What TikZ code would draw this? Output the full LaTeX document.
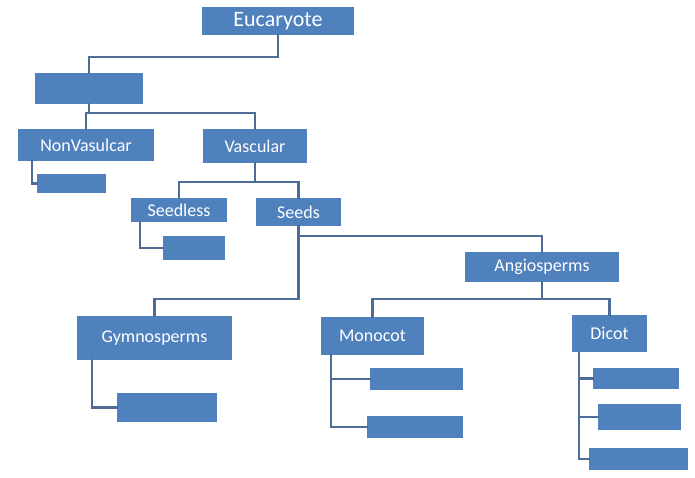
\documentclass[tikz,border=0pt]{standalone}
\usepackage{fontspec}
\setmainfont{Carlito}
\definecolor{boxblue}{HTML}{4F81BD}
\definecolor{linkblue}{HTML}{4D6C98}
\tikzset{
  box/.style={fill=boxblue, draw=none, inner sep=0pt, text=white, font=\fontsize{18}{21}\selectfont},
  bigbox/.style={box, font=\fontsize{22}{25}\selectfont},
  link/.style={draw=linkblue, line width=2.3pt, line cap=rect}
}
\begin{document}
\begin{tikzpicture}[x=1pt,y=-1pt]
\useasboundingbox (0,0) rectangle (695,478);
% boxes
\node[bigbox, minimum width=152pt, minimum height=28pt] (euc) at (278,21) {Eucaryote};
\node[box, minimum width=108pt, minimum height=31pt] (b1) at (89,88.5) {};
\node[box, minimum width=136pt, minimum height=32pt] (nv) at (86,145) {NonVasulcar};
\node[box, minimum width=104pt, minimum height=34pt] (vasc) at (255,146) {Vascular};
\node[box, minimum width=69pt, minimum height=19pt] (b2) at (71.5,183.5) {};
\node[box, minimum width=96pt, minimum height=24pt] (sl) at (179,210) {Seedless};
\node[box, minimum width=85pt, minimum height=28pt] (seeds) at (298.5,212) {Seeds};
\node[box, minimum width=62pt, minimum height=24pt] (b3) at (194,248) {};
\node[box, minimum width=154pt, minimum height=30pt] (angio) at (542,267) {Angiosperms};
\node[box, minimum width=155pt, minimum height=44pt] (gym) at (154.5,338) {Gymnosperms};
\node[box, minimum width=100pt, minimum height=29pt] (b4) at (167,407.5) {};
\node[box, minimum width=103pt, minimum height=38pt] (mono) at (372.5,336) {Monocot};
\node[box, minimum width=75pt, minimum height=37pt] (dicot) at (609.5,333.5) {Dicot};
\node[box, minimum width=93pt, minimum height=22pt] (m1) at (416.5,379) {};
\node[box, minimum width=96pt, minimum height=22pt] (m2) at (415,427) {};
\node[box, minimum width=86pt, minimum height=21pt] (d1) at (636,378.5) {};
\node[box, minimum width=83pt, minimum height=26pt] (d2) at (639.5,417) {};
\node[box, minimum width=99pt, minimum height=22pt] (d3) at (638.5,459) {};
% connectors
\draw[link] (euc.south) -- (euc.south |- 0,57) -- (b1.north |- 0,57) -- (b1.north);
\draw[link] (b1.south) -- (b1.south |- 0,113);
\draw[link] (nv.north) -- (nv.north |- 0,113) -- (vasc.north |- 0,113) -- (vasc.north);
\draw[link] (nv.south -| 32,0) |- (b2.west);
\draw[link] (vasc.south) -- (vasc.south |- 0,182);
\draw[link] (sl.north) -- (sl.north |- 0,182) -- (seeds.north |- 0,182) -- (seeds.north);
\draw[link] (sl.south -| 140,0) |- (b3.west);
\draw[link] (seeds.south) -- (seeds.south |- 0,299) -- (gym.north |- 0,299) -- (gym.north);
\draw[link] (seeds.south |- 0,236) -- (angio.north |- 0,236) -- (angio.north);
\draw[link] (gym.south -| 92,0) |- (b4.west);
\draw[link] (angio.south) -- (angio.south |- 0,299);
\draw[link] (mono.north) -- (mono.north |- 0,299) -- (dicot.north |- 0,299) -- (dicot.north);
\draw[link] (mono.south -| 331,0) |- (m2.west);
\draw[link] (m1.west -| 331,0) -- (m1.west);
\draw[link] (dicot.south -| 579,0) |- (d3.west);
\draw[link] (d1.west -| 579,0) -- (d1.west);
\draw[link] (d2.west -| 579,0) -- (d2.west);
\end{tikzpicture}
\end{document}
